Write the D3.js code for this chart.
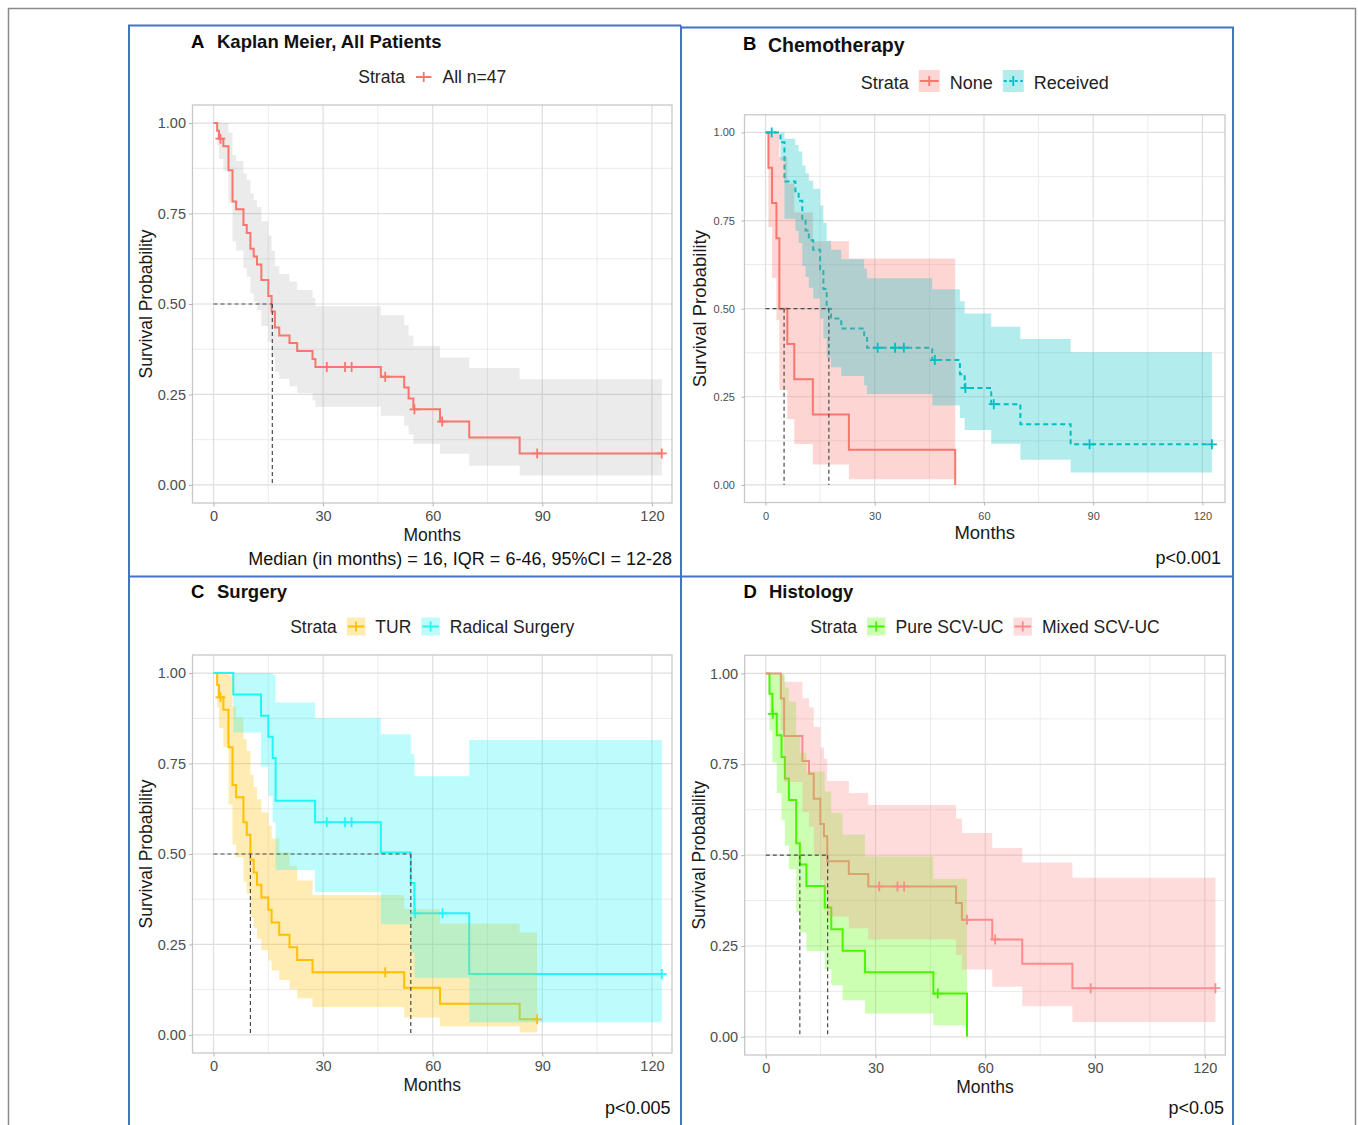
<!DOCTYPE html>
<html>
<head>
<meta charset="utf-8">
<script src="https://cdn.jsdelivr.net/npm/d3@7"></script>
<style>
  body { margin: 0; background: #ffffff; }
  svg  { display: block; }
</style>
</head>
<body>
<svg id="fig" width="1358" height="1125"></svg>
<script>
/* ── Kaplan–Meier figure, four panels (A–D) ───────────────── */

const FONT = '"Liberation Sans", Arial, Helvetica, sans-serif';

/* ── 1. Data ──────────────────────────────────────────────── */

// shared axis ticks (months / survival probability)
const xTicks = [0, 30, 60, 90, 120];
const xMinor = [15, 45, 75, 105];
const yTicks = [0, 0.25, 0.5, 0.75, 1];
const yMinor = [0.125, 0.375, 0.625, 0.875];

// A — all patients, n=47
const aTime   = [0, 1.0, 1.5, 2.7, 4.1, 5.2, 6.2, 8.2, 9.1, 10.1, 11.0, 11.9, 13.1, 15.0, 15.9, 16.8, 18.0, 20.8, 22.9, 27.1, 27.9, 45.8, 52.2, 53.4, 54.7, 62.0, 70.0, 83.8];
const aSurv   = [1, 0.979, 0.957, 0.936, 0.870, 0.783, 0.762, 0.718, 0.696, 0.653, 0.631, 0.609, 0.566, 0.522, 0.479, 0.435, 0.413, 0.392, 0.370, 0.348, 0.326, 0.299, 0.269, 0.239, 0.209, 0.175, 0.131, 0.087];
const aLower  = [1, 0.938, 0.901, 0.868, 0.779, 0.673, 0.648, 0.599, 0.575, 0.529, 0.506, 0.483, 0.439, 0.396, 0.354, 0.313, 0.293, 0.273, 0.254, 0.234, 0.216, 0.191, 0.164, 0.139, 0.114, 0.086, 0.053, 0.026];
const aUpper  = [1, 1, 1, 1, 0.973, 0.912, 0.895, 0.861, 0.843, 0.806, 0.787, 0.768, 0.729, 0.689, 0.647, 0.605, 0.583, 0.562, 0.539, 0.517, 0.494, 0.469, 0.441, 0.413, 0.384, 0.352, 0.323, 0.292];
const aCensor = [1.9, 31.0, 36.0, 37.8, 47.0, 55.0, 62.6, 88.6, 122.7];
const aEnd    = 122.7;
const aMedian = [16.1];

// B — chemotherapy: None
const bNoneTime   = [0, 0.8, 1.8, 3.0, 3.8, 6.0, 7.9, 13.0, 22.9, 52.1];
const bNoneSurv   = [1, 0.9, 0.8, 0.7, 0.5, 0.4, 0.3, 0.2, 0.1, 0];
const bNoneLower  = [1, 0.732, 0.587, 0.467, 0.269, 0.187, 0.116, 0.058, 0.016, null];
const bNoneUpper  = [1, 1, 1, 1, 0.930, 0.855, 0.773, 0.691, 0.642, null];
const bNoneCensor = [];
const bNoneEnd    = 52.1;
// B — chemotherapy: Received
const bRecTime   = [0, 4.1, 5.2, 8.2, 9.1, 10.1, 11.0, 11.9, 13.1, 15.0, 15.9, 16.8, 18.0, 20.8, 27.1, 27.9, 45.8, 53.4, 54.7, 62.0, 70.0, 83.8];
const bRecSurv   = [1, 0.972, 0.861, 0.833, 0.806, 0.750, 0.722, 0.694, 0.667, 0.611, 0.556, 0.500, 0.472, 0.444, 0.417, 0.389, 0.354, 0.314, 0.275, 0.229, 0.172, 0.115];
const bRecLower  = [1, 0.920, 0.755, 0.720, 0.686, 0.621, 0.590, 0.559, 0.529, 0.471, 0.415, 0.361, 0.334, 0.309, 0.283, 0.258, 0.225, 0.190, 0.156, 0.117, 0.071, 0.035];
const bRecUpper  = [1, 1, 0.982, 0.964, 0.946, 0.906, 0.884, 0.863, 0.840, 0.793, 0.744, 0.693, 0.667, 0.640, 0.613, 0.586, 0.555, 0.521, 0.486, 0.449, 0.414, 0.376];
const bRecCensor = [1.7, 30.8, 35.6, 38.0, 46.5, 54.9, 62.7, 89.0, 122.6];
const bRecEnd    = 122.6;
const bMedian    = [5.1, 17.4];

// C — surgery: TUR
const cTurTime   = [0, 1.0, 1.5, 2.7, 4.1, 5.2, 6.2, 8.2, 9.1, 10.1, 11.0, 11.9, 13.1, 15.0, 15.9, 18.0, 20.8, 22.9, 27.1, 52.2, 62.0, 83.8];
const cTurSurv   = [1, 0.967, 0.933, 0.899, 0.795, 0.691, 0.657, 0.588, 0.553, 0.484, 0.449, 0.415, 0.380, 0.346, 0.311, 0.277, 0.242, 0.207, 0.173, 0.130, 0.086, 0.043];
const cTurLower  = [1, 0.905, 0.848, 0.796, 0.637, 0.526, 0.491, 0.423, 0.390, 0.326, 0.295, 0.265, 0.235, 0.206, 0.178, 0.152, 0.126, 0.101, 0.077, 0.048, 0.024, 0.007];
const cTurUpper  = [1, 1, 1, 1, 0.993, 0.908, 0.878, 0.817, 0.785, 0.719, 0.685, 0.651, 0.615, 0.579, 0.543, 0.505, 0.467, 0.427, 0.387, 0.347, 0.308, 0.283];
const cTurCensor = [1.9, 47.0, 88.6];
const cTurEnd    = 88.6;
// C — surgery: Radical Surgery
const cRadTime   = [0, 5.4, 13.0, 15.0, 16.2, 17.0, 27.8, 45.8, 54.0, 55.0, 70.0];
const cRadSurv   = [1, 0.941, 0.882, 0.824, 0.765, 0.647, 0.588, 0.504, 0.420, 0.336, 0.168];
const cRadLower  = [1, 0.836, 0.742, 0.661, 0.588, 0.456, 0.395, 0.306, 0.227, 0.158, 0.035];
const cRadUpper  = [1, 1, 1, 1, 0.995, 0.919, 0.876, 0.831, 0.777, 0.715, 0.815];
const cRadCensor = [31.0, 36.0, 37.8, 55.2, 62.7, 122.7];
const cRadEnd    = 122.7;
const cMedian    = [10.1, 54.0];

// D — histology: Pure SCV-UC
const dPureTime   = [0, 1.0, 1.8, 3.0, 4.3, 5.2, 6.3, 8.3, 9.3, 11.1, 16.1, 17.9, 21.0, 27.1, 45.8, 55.0];
const dPureSurv   = [1, 0.944, 0.889, 0.830, 0.770, 0.711, 0.652, 0.533, 0.474, 0.415, 0.356, 0.296, 0.237, 0.178, 0.119, 0];
const dPureLower  = [1, 0.844, 0.755, 0.671, 0.596, 0.526, 0.461, 0.342, 0.287, 0.236, 0.187, 0.142, 0.101, 0.064, 0.032, null];
const dPureUpper  = [1, 1, 1, 1, 0.996, 0.961, 0.922, 0.832, 0.782, 0.730, 0.675, 0.617, 0.557, 0.496, 0.435, null];
const dPureCensor = [1.9, 47.0];
const dPureEnd    = 55.0;
// D — histology: Mixed SCV-UC
const dMixTime   = [0, 4.1, 5.0, 10.0, 11.8, 13.1, 14.9, 15.9, 16.8, 22.7, 28.0, 52.0, 53.6, 61.9, 70.1, 83.8];
const dMixSurv   = [1, 0.931, 0.828, 0.759, 0.724, 0.655, 0.586, 0.552, 0.483, 0.448, 0.414, 0.368, 0.322, 0.268, 0.201, 0.134];
const dMixLower  = [1, 0.843, 0.701, 0.618, 0.578, 0.503, 0.432, 0.397, 0.331, 0.299, 0.268, 0.225, 0.185, 0.138, 0.084, 0.041];
const dMixUpper  = [1, 1, 0.977, 0.932, 0.907, 0.853, 0.796, 0.766, 0.704, 0.671, 0.638, 0.601, 0.561, 0.520, 0.480, 0.438];
const dMixCensor = [31.0, 36.0, 37.8, 55.0, 62.7, 88.8, 122.9];
const dMixEnd    = 122.9;
const dMedian    = [9.3, 16.9];

/* ── 2. Panel drawing ─────────────────────────────────────── */

const svg = d3.select('#fig');
svg.append('rect').attr('width', 1358).attr('height', 1125).attr('fill', '#ffffff');

const bisectT = d3.bisector(d => d).right;

function drawPanel(p) {
  const g = svg.append('g');
  const x = d3.scaleLinear().domain(p.xDom).range([p.l, p.r]);
  const y = d3.scaleLinear().domain([-0.05, 1.05]).range([p.b, p.t]);

  const clipId = 'clip' + p.tag;
  svg.append('clipPath').attr('id', clipId)
    .append('rect').attr('x', p.l).attr('y', p.t)
    .attr('width', p.r - p.l).attr('height', p.b - p.t);

  // grid
  const grid = g.append('g');
  grid.selectAll('.xmin').data(xMinor).join('line')
    .attr('x1', d => x(d)).attr('x2', d => x(d)).attr('y1', p.t).attr('y2', p.b)
    .attr('stroke', '#e6e6e6').attr('stroke-width', 0.8);
  grid.selectAll('.ymin').data(yMinor).join('line')
    .attr('y1', d => y(d)).attr('y2', d => y(d)).attr('x1', p.l).attr('x2', p.r)
    .attr('stroke', '#e6e6e6').attr('stroke-width', 0.8);
  grid.selectAll('.xmaj').data(xTicks).join('line')
    .attr('x1', d => x(d)).attr('x2', d => x(d)).attr('y1', p.t).attr('y2', p.b)
    .attr('stroke', '#dedede').attr('stroke-width', 1.2);
  grid.selectAll('.ymaj').data(yTicks).join('line')
    .attr('y1', d => y(d)).attr('y2', d => y(d)).attr('x1', p.l).attr('x2', p.r)
    .attr('stroke', '#dedede').attr('stroke-width', 1.2);

  const plot = g.append('g').attr('clip-path', `url(#${clipId})`);

  const line = d3.line().curve(d3.curveStepAfter)
    .x(d => x(d[0])).y(d => y(d[1]));
  const area = d3.area().curve(d3.curveStepAfter)
    .x(d => x(d[0])).y0(d => y(d[1])).y1(d => y(d[2]));

  function drawBands() {
    p.strata.forEach(s => {
      const pts = [];
      s.time.forEach((t, i) => { if (s.lower[i] != null) pts.push([t, s.lower[i], s.upper[i]]); });
      const k = s.lower.findIndex(v => v == null);
      const bandEnd = k >= 0 ? s.time[k] : s.end;
      const last = pts[pts.length - 1];
      pts.push([bandEnd, last[1], last[2]]);
      plot.append('path').datum(pts)
        .attr('d', area)
        .attr('fill', s.band || s.color)
        .attr('fill-opacity', s.bandOpacity);
    });
  }

  function drawLines() {
    p.strata.forEach(s => {
      const pts = s.time.map((t, i) => [t, s.surv[i]]);
      pts.push([s.end, s.surv[s.surv.length - 1]]);
      plot.append('path').datum(pts)
        .attr('d', line)
        .attr('fill', 'none')
        .attr('stroke', s.color)
        .attr('stroke-width', 2)
        .attr('stroke-dasharray', s.dash || null);
    });
  }

  if (p.bandsOver) { drawLines(); drawBands(); } else { drawBands(); drawLines(); }

  // median lines
  const med = g.append('g').attr('stroke', '#4a4a4a').attr('stroke-width', 1.2)
    .attr('stroke-dasharray', '4,3').attr('fill', 'none');
  med.append('line')
    .attr('x1', x(0)).attr('x2', x(d3.max(p.medians)))
    .attr('y1', y(0.5)).attr('y2', y(0.5));
  med.selectAll('.mv').data(p.medians).join('line')
    .attr('x1', d => x(d)).attr('x2', d => x(d))
    .attr('y1', y(0.5)).attr('y2', y(0));

  // censor marks
  p.strata.forEach(s => {
    const marks = s.censor.map(c => [c, s.surv[bisectT(s.time, c) - 1]]);
    g.append('g').selectAll('path').data(marks).join('path')
      .attr('d', d => {
        const cx = x(d[0]), cy = y(d[1]);
        return `M${cx - 5},${cy}H${cx + 5}M${cx},${cy - 5}V${cy + 5}`;
      })
      .attr('stroke', s.color).attr('stroke-width', 1.8).attr('fill', 'none');
  });

  // panel border
  g.append('rect')
    .attr('x', p.l).attr('y', p.t).attr('width', p.r - p.l).attr('height', p.b - p.t)
    .attr('fill', 'none').attr('stroke', '#c8c8c8').attr('stroke-width', 1.3);

  // axes
  const ya = g.append('g').attr('transform', `translate(${p.l},0)`)
    .call(d3.axisLeft(y).tickValues(yTicks).tickFormat(d3.format('.2f'))
      .tickSize(p.tickLen).tickPadding(p.yPad));
  const xa = g.append('g').attr('transform', `translate(0,${p.b})`)
    .call(d3.axisBottom(x).tickValues(xTicks).tickFormat(d3.format('d'))
      .tickSize(p.tickLen).tickPadding(p.xPad));
  [ya, xa].forEach(a => {
    a.select('.domain').remove();
    a.attr('font-family', FONT).attr('font-size', p.tickSize);
    a.selectAll('line').attr('stroke', '#b3b3b3');
    a.selectAll('text').attr('fill', '#4d4d4d');
  });

  // axis titles
  g.append('text')
    .attr('x', (p.l + p.r) / 2).attr('y', p.xTitleY)
    .attr('text-anchor', 'middle')
    .style('font-family', FONT).style('font-size', p.axisSize + 'px').attr('fill', '#1a1a1a')
    .text('Months');
  g.append('text')
    .attr('transform', `translate(${p.yTitleX},${(p.t + p.b) / 2}) rotate(-90)`)
    .attr('text-anchor', 'middle')
    .style('font-family', FONT).style('font-size', p.axisSize + 'px').attr('fill', '#1a1a1a')
    .text('Survival Probability');

  // tag + title
  g.append('text').attr('x', p.tagX).attr('y', p.tagY)
    .style('font-family', FONT).style('font-size', '18.5px').style('font-weight', 'bold')
    .attr('fill', '#000').text(p.tag);
  g.append('text').attr('x', p.titleX).attr('y', p.titleY)
    .style('font-family', FONT).style('font-size', p.titleSize + 'px').style('font-weight', 'bold')
    .attr('fill', '#111').text(p.title);

  // legend (centred over the plot)
  const lg = g.append('g');
  const fs = p.legendSize;
  let cx = 0;
  const lt = lg.append('text').attr('x', cx).attr('y', p.legendY)
    .style('font-family', FONT).style('font-size', fs + 'px').attr('fill', '#222')
    .text('Strata');
  cx += lt.node().getComputedTextLength() + 10;
  p.strata.forEach(s => {
    const kw = p.keyW, kh = p.keyH, ky = p.legendY - p.keyDy;
    if (p.keyBox) {
      lg.append('rect').attr('x', cx).attr('y', ky - kh / 2).attr('width', kw).attr('height', kh)
        .attr('fill', s.band || s.color).attr('fill-opacity', s.bandOpacity);
    }
    lg.append('line').attr('x1', cx + 1).attr('x2', cx + kw - 1).attr('y1', ky).attr('y2', ky)
      .attr('stroke', s.color).attr('stroke-width', 2)
      .attr('stroke-dasharray', s.dash ? '3,2.5' : null);
    lg.append('line').attr('x1', cx + kw / 2).attr('x2', cx + kw / 2).attr('y1', ky - 5).attr('y2', ky + 5)
      .attr('stroke', s.color).attr('stroke-width', 1.8);
    cx += kw + 10;
    const t = lg.append('text').attr('x', cx).attr('y', p.legendY)
      .style('font-family', FONT).style('font-size', fs + 'px').attr('fill', '#222')
      .text(s.name);
    cx += t.node().getComputedTextLength() + 10;
  });
  lg.attr('transform', `translate(${(p.l + p.r) / 2 - (cx - 10) / 2},0)`);

  // note under the plot
  g.append('text').attr('x', p.noteX).attr('y', p.noteY).attr('text-anchor', 'end')
    .style('font-family', FONT).style('font-size', '18px').attr('fill', '#111')
    .text(p.note);
}

/* ── 3. Panels ────────────────────────────────────────────── */

const common = {
  tickSize: 14.5, tickLen: 3.5, yPad: 3, xPad: 4,
  axisSize: 17.5, titleSize: 18.5, legendSize: 17.5,
  keyW: 18.5, keyH: 18, keyDy: 6.5, keyBox: true, bandsOver: true
};

drawPanel(Object.assign({}, common, {
  tag: 'A', title: 'Kaplan Meier, All Patients',
  l: 192.5, r: 672, t: 105, b: 503, xDom: [-5.75, 125.5],
  tagX: 191, tagY: 48, titleX: 217, titleY: 48,
  legendY: 83, keyBox: false, keyW: 17.5, keyDy: 6, bandsOver: false,
  xTitleY: 541, yTitleX: 152,
  note: 'Median (in months) = 16, IQR = 6-46, 95%CI = 12-28', noteX: 672, noteY: 565,
  medians: aMedian,
  strata: [
    { name: 'All n=47', color: '#F8766D', band: '#9a9a9a', bandOpacity: 0.2,
      time: aTime, surv: aSurv, lower: aLower, upper: aUpper, censor: aCensor, end: aEnd }
  ]
}));

drawPanel(Object.assign({}, common, {
  tag: 'B', title: 'Chemotherapy',
  l: 744.5, r: 1225, t: 114.8, b: 502.5, xDom: [-5.77, 126.2],
  tickSize: 11, tickLen: 3, yPad: 6.5, xPad: 7,
  axisSize: 18.5, titleSize: 19.5, legendSize: 18,
  tagX: 743, tagY: 49.5, titleX: 768, titleY: 51.5,
  legendY: 88.5, keyW: 21, keyH: 22, keyDy: 7.5,
  xTitleY: 539, yTitleX: 706,
  note: 'p<0.001', noteX: 1221, noteY: 564,
  medians: bMedian,
  strata: [
    { name: 'None', color: '#F8766D', bandOpacity: 0.3,
      time: bNoneTime, surv: bNoneSurv, lower: bNoneLower, upper: bNoneUpper, censor: bNoneCensor, end: bNoneEnd },
    { name: 'Received', color: '#00BFC4', bandOpacity: 0.3, dash: '5,3.5',
      time: bRecTime, surv: bRecSurv, lower: bRecLower, upper: bRecUpper, censor: bRecCensor, end: bRecEnd }
  ]
}));

drawPanel(Object.assign({}, common, {
  tag: 'C', title: 'Surgery',
  l: 192.5, r: 672, t: 655, b: 1053, xDom: [-5.75, 125.5],
  tagX: 191, tagY: 598, titleX: 217, titleY: 598,
  legendY: 633,
  xTitleY: 1091, yTitleX: 152,
  note: 'p<0.005', noteX: 670.5, noteY: 1114,
  medians: cMedian,
  strata: [
    { name: 'TUR', color: '#FFC000', bandOpacity: 0.3,
      time: cTurTime, surv: cTurSurv, lower: cTurLower, upper: cTurUpper, censor: cTurCensor, end: cTurEnd },
    { name: 'Radical Surgery', color: '#22F6F6', bandOpacity: 0.3,
      time: cRadTime, surv: cRadSurv, lower: cRadLower, upper: cRadUpper, censor: cRadCensor, end: cRadEnd }
  ]
}));

drawPanel(Object.assign({}, common, {
  tag: 'D', title: 'Histology',
  l: 744.7, r: 1225.3, t: 655.3, b: 1055, xDom: [-5.77, 125.6],
  tagX: 743.5, tagY: 598, titleX: 769, titleY: 598,
  legendY: 633,
  xTitleY: 1092.5, yTitleX: 705,
  note: 'p<0.05', noteX: 1224, noteY: 1114,
  medians: dMedian,
  strata: [
    { name: 'Pure SCV-UC', color: '#44F200', band: '#55FF00', bandOpacity: 0.3,
      time: dPureTime, surv: dPureSurv, lower: dPureLower, upper: dPureUpper, censor: dPureCensor, end: dPureEnd },
    { name: 'Mixed SCV-UC', color: '#FF8A8A', bandOpacity: 0.3,
      time: dMixTime, surv: dMixSurv, lower: dMixLower, upper: dMixUpper, censor: dMixCensor, end: dMixEnd }
  ]
}));

/* ── 4. Frames ────────────────────────────────────────────── */

// outer grey frame of the figure
svg.append('path')
  .attr('d', 'M8.5,1125V8.5H1355.5V1125')
  .attr('fill', 'none').attr('stroke', '#8a8a8a').attr('stroke-width', 1.5);

// blue boxes round the four panels
const blue = svg.append('g').attr('stroke', '#4472C4').attr('stroke-width', 2).attr('fill', 'none');
blue.append('path').attr('d', 'M129,1125V25.5H681');
blue.append('path').attr('d', 'M681,1125V27.5H1233V1125');
blue.append('path').attr('d', 'M681,25.5V27.5');
blue.append('path').attr('d', 'M129,576.5H1233');
</script>
</body>
</html>
